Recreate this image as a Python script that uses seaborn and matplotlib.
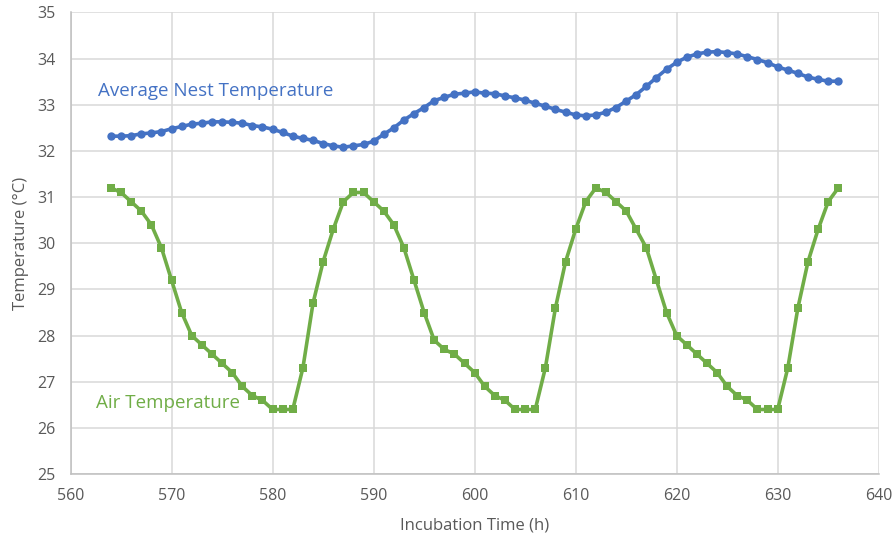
import matplotlib
matplotlib.use("Agg")
import matplotlib.pyplot as plt
import seaborn as sns
import pandas as pd
import numpy as np

# Incubation hours (one reading per hour)
hours = list(range(564, 637))

# Average nest temperature (°C)
nest_temp = [
    32.32, 32.32, 32.33, 32.37, 32.39, 32.42, 32.48, 32.53, 32.58, 32.60,
    32.63, 32.63, 32.62, 32.60, 32.55, 32.52, 32.47, 32.40, 32.32, 32.27,
    32.23, 32.16, 32.11, 32.08, 32.11, 32.14, 32.21, 32.36, 32.50, 32.67,
    32.81, 32.94, 33.09, 33.16, 33.23, 33.25, 33.28, 33.25, 33.24, 33.19,
    33.15, 33.10, 33.03, 32.97, 32.90, 32.84, 32.78, 32.76, 32.78, 32.84,
    32.94, 33.08, 33.22, 33.40, 33.59, 33.77, 33.92, 34.03, 34.10, 34.14,
    34.15, 34.13, 34.10, 34.04, 33.98, 33.91, 33.82, 33.75, 33.68, 33.60,
    33.55, 33.51, 33.51,
]

# Air temperature (°C)
air_temp = [
    31.2, 31.1, 30.9, 30.7, 30.4, 29.9, 29.2, 28.5, 28.0, 27.8,
    27.6, 27.4, 27.2, 26.9, 26.7, 26.6, 26.4, 26.4, 26.4, 27.3,
    28.7, 29.6, 30.3, 30.9, 31.1, 31.1, 30.9, 30.7, 30.4, 29.9,
    29.2, 28.5, 27.9, 27.7, 27.6, 27.4, 27.2, 26.9, 26.7, 26.6,
    26.4, 26.4, 26.4, 27.3, 28.6, 29.6, 30.3, 30.9, 31.2, 31.1,
    30.9, 30.7, 30.3, 29.9, 29.2, 28.5, 28.0, 27.8, 27.6, 27.4,
    27.2, 26.9, 26.7, 26.6, 26.4, 26.4, 26.4, 27.3, 28.6, 29.6,
    30.3, 30.9, 31.2,
]

x_ticks = list(range(560, 641, 10))
y_ticks = list(range(25, 36, 1))

BLUE = "#4472C4"
GREEN = "#70AD47"
TEXT = "#595959"
GRID = "#D9D9D9"

sns.set_theme(style="white")
plt.rcParams["font.family"] = ["Open Sans", "DejaVu Sans"]

df = pd.DataFrame({"hour": hours, "nest": nest_temp, "air": air_temp})

fig = plt.figure(figsize=(8.93, 5.40), dpi=100)
ax = fig.add_axes([0.079, 0.122, 0.905, 0.855])

sns.lineplot(data=df, x="hour", y="nest", ax=ax, color=BLUE, linewidth=2.6,
             marker="o", markersize=6, markeredgewidth=0, zorder=3)
sns.lineplot(data=df, x="hour", y="air", ax=ax, color=GREEN, linewidth=2.6,
             marker="s", markersize=5.5, markeredgewidth=0, zorder=3)

ax.set_xlim(560, 640)
ax.set_ylim(25, 35)
ax.set_xticks(x_ticks)
ax.set_yticks(y_ticks)
ax.grid(True, color=GRID, linewidth=1.1)
ax.set_axisbelow(True)

for side in ("top", "right"):
    ax.spines[side].set_visible(False)
for side in ("left", "bottom"):
    ax.spines[side].set_color("#BFBFBF")
    ax.spines[side].set_linewidth(1.1)

ax.tick_params(axis="both", length=0, labelsize=11.5, colors=TEXT)
ax.tick_params(axis="y", pad=11)
ax.tick_params(axis="x", pad=10)

ax.set_xlabel("Incubation Time (h)", fontsize=12, color=TEXT, labelpad=10)
ax.set_ylabel("Temperature (°C)", fontsize=12, color=TEXT, labelpad=6)

ax.text(562.7, 33.30, "Average Nest Temperature", color=BLUE, fontsize=13.5,
        va="center", ha="left")
ax.text(562.5, 26.54, "Air Temperature", color=GREEN, fontsize=13.5,
        va="center", ha="left")

fig.savefig("out.png", dpi=100, facecolor="white")
